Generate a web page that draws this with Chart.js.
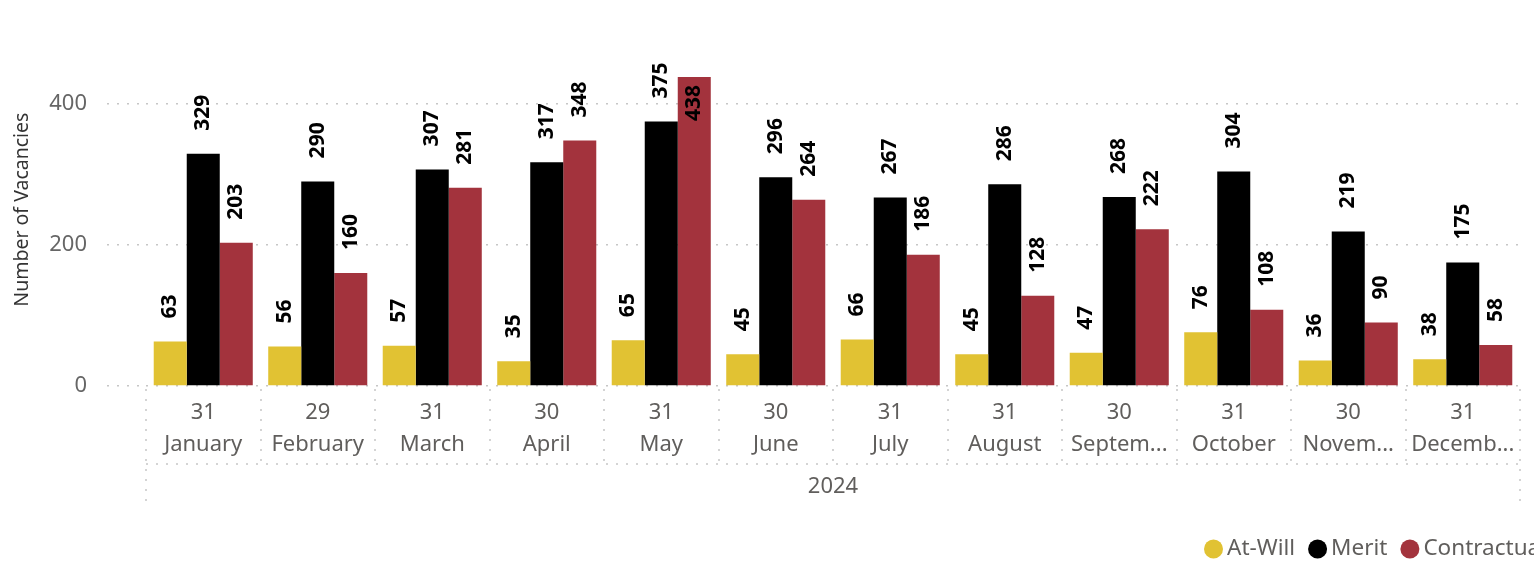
<!DOCTYPE html>
<html>
<head>
<meta charset="utf-8">
<script src="https://cdn.jsdelivr.net/npm/chart.js@4/dist/chart.umd.min.js"></script>
<style>
  html, body { margin: 0; padding: 0; background: #fff; }
  #wrap { width: 1534px; height: 564px; position: relative; }
</style>
</head>
<body>
<div id="wrap"><canvas id="myChart"></canvas></div>
<script>
// data
const months = ["January", "February", "March", "April", "May", "June", "July",
  "August", "September", "October", "November", "December"];
const days = ["31", "29", "31", "30", "31", "30", "31", "31", "30", "31", "30", "31"];
const year = "2024";
const atWill = [63, 56, 57, 35, 65, 45, 66, 45, 47, 76, 36, 38];
const merit = [329, 290, 307, 317, 375, 296, 267, 286, 268, 304, 219, 175];
const contractual = [203, 160, 281, 348, 438, 264, 186, 128, 222, 108, 90, 58];
const yTicks = [0, 200, 400];

const FONT = "'Noto Sans', 'Open Sans', sans-serif";
const DOT = "#c6c6c6";

// cut long month names like "Septem…"
const measureCtx = document.createElement("canvas").getContext("2d");
measureCtx.font = "22px " + FONT;
function fitLabel(text, maxW) {
  if (measureCtx.measureText(text).width <= maxW) return text;
  let t = text;
  while (t.length > 1 && measureCtx.measureText(t + "...").width > maxW) {
    t = t.slice(0, -1);
  }
  return t + "...";
}

const labels = months.map((m, i) => [days[i], fitLabel(m, 103.5)]);

const data = {
  labels,
  datasets: [
    { label: "At-Will", data: atWill, backgroundColor: "#E1C233" },
    { label: "Merit", data: merit, backgroundColor: "#000000" },
    { label: "Contractual", data: contractual, backgroundColor: "#A3333D" },
  ],
};

//Value labels, rotated, above the bars (inside when no room)
const barLabels = {
  id: "barLabels",
  afterDatasetsDraw(chart) {
    const { ctx, chartArea } = chart;
    ctx.save();
    ctx.font = "bold 21px " + FONT;
    ctx.fillStyle = "#000000";
    ctx.textBaseline = "middle";
    chart.data.datasets.forEach((ds, di) => {
      chart.getDatasetMeta(di).data.forEach((bar, i) => {
        const txt = String(ds.data[i]);
        const w = ctx.measureText(txt).width;
        ctx.save();
        if (bar.y - 23 - w < chartArea.top) {
          ctx.translate(bar.x, bar.y + 8);
          ctx.rotate(-Math.PI / 2);
          ctx.textAlign = "right";
        } else {
          ctx.translate(bar.x, bar.y - 23);
          ctx.rotate(-Math.PI / 2);
          ctx.textAlign = "left";
        }
        ctx.fillText(txt, 0, 0);
        ctx.restore();
      });
    });
    ctx.restore();
  },
};

//Dotted boxes round the month / year labels
const hierarchyGrid = {
  id: "hierarchyGrid",
  afterDraw(chart) {
    const { ctx } = chart;
    const x = chart.scales.x;
    const step = (x.right - x.left) / months.length;
    const top = x.top + 3;
    const mid = x.top + 78;
    const bottom = x.top + 122;
    ctx.save();
    ctx.strokeStyle = DOT;
    ctx.lineWidth = 1.5;
    ctx.setLineDash([2, 8]);
    ctx.beginPath();
    for (let i = 0; i <= months.length; i++) {
      const px = Math.round(x.left + i * step);
      ctx.moveTo(px, top);
      ctx.lineTo(px, i === 0 || i === months.length ? bottom : mid);
    }
    ctx.moveTo(x.left, mid);
    ctx.lineTo(x.right, mid);
    ctx.stroke();
    ctx.restore();
  },
};

//Legend bottom right, runs off the edge like the original
const legendDots = {
  id: "legendDots",
  afterDraw(chart) {
    const { ctx } = chart;
    let px = 1204;
    const py = 549;
    ctx.save();
    ctx.font = "22.5px " + FONT;
    ctx.textBaseline = "middle";
    ctx.textAlign = "left";
    chart.data.datasets.forEach((ds) => {
      ctx.fillStyle = ds.backgroundColor;
      ctx.beginPath();
      ctx.arc(px + 9.5, py, 9.5, 0, Math.PI * 2);
      ctx.fill();
      ctx.fillStyle = "#605E5C";
      ctx.fillText(ds.label, px + 23, py);
      px += 23 + ctx.measureText(ds.label).width + 13;
    });
    ctx.restore();
  },
};

const config = {
  type: "bar",
  data,
  options: {
    responsive: true,
    maintainAspectRatio: false,
    animation: false,
    layout: { padding: { top: 31, right: 14, bottom: 0, left: 0 } },
    datasets: {
      bar: { categoryPercentage: 0.865, barPercentage: 1.0 },
    },
    scales: {
      x: {
        grid: { display: false },
        border: { display: false },
        ticks: {
          autoSkip: false,
          maxRotation: 0,
          padding: 3,
          color: "#605E5C",
          font: { family: FONT, size: 22, lineHeight: 1.45 },
        },
        title: {
          display: true,
          text: year,
          color: "#605E5C",
          font: { family: FONT, size: 22 },
          padding: { top: 0, bottom: 64 },
        },
        afterFit(scale) {
          scale.height = 178;
        },
      },
      y: {
        min: 0,
        max: 500,
        ticks: {
          stepSize: 200,
          padding: 20,
          color: "#666666",
          font: { family: FONT, size: 22 },
        },
        afterBuildTicks(scale) {
          scale.ticks = yTicks.map((v) => ({ value: v }));
        },
        grid: {
          color: DOT,
          lineWidth: 1.5,
          tickBorderDash: [2, 8],
          tickLength: 39,
          tickColor: DOT,
        },
        border: { display: false, dash: [2, 8] },
        title: {
          display: true,
          text: "Number of Vacancies",
          color: "#333333",
          font: { family: FONT, size: 19.5 },
          padding: { top: 11, bottom: 10 },
        },
        afterFit(scale) {
          scale.width = 146;
        },
      },
    },
    plugins: {
      legend: { display: false },
      tooltip: { enabled: false },
    },
  },
  plugins: [barLabels, hierarchyGrid, legendDots],
};

const myChart = new Chart(document.getElementById("myChart"), config);
</script>
</body>
</html>
